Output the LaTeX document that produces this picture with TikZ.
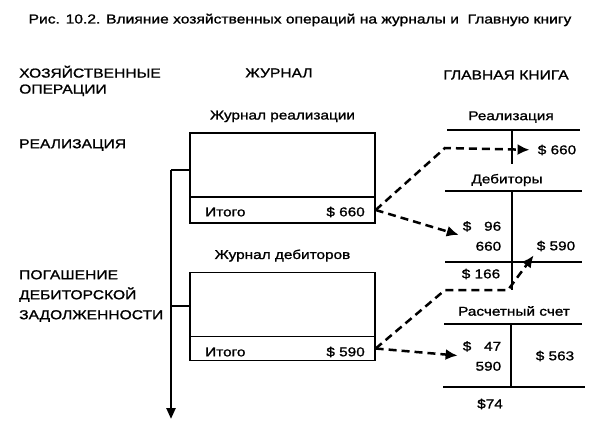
\documentclass[tikz,border=0pt]{standalone}
\usepackage{fontspec}
\setmainfont{Liberation Sans}[FakeStretch=1.2,FakeBold=1.2]
\usetikzlibrary{arrows.meta,positioning}

\begin{document}
\begin{tikzpicture}[x=1pt,y=-1pt,
    caps/.style={font=\fontsize{13}{16}\selectfont,align=left,inner sep=0pt},
    lbl/.style={font=\fontsize{12.8}{20}\selectfont,inner sep=0pt},
    jbox/.style={draw,line width=1.3pt,minimum width=185pt,inner sep=0pt},
    rule/.style={line width=1.4pt},
    flow/.style={-{Latex[length=12pt,width=11pt]},line width=2.5pt,dash pattern=on 8pt off 5pt},
    tline/.style={line width=2.4pt}
  ]
  \useasboundingbox (0,0) rectangle (597,444);

  % headings
  \node[lbl,font=\fontsize{13}{15}\selectfont] (title) at (300,20)
    {Рис. 10.2. Влияние хозяйственных операций на журналы и~~Главную книгу};
  \node[caps,anchor=west] (ops) at (19,81) {ХОЗЯЙСТВЕННЫЕ\\ОПЕРАЦИИ};
  \node[caps] (jhead) at (279,73) {ЖУРНАЛ};
  \node[caps] (lhead) at (506,75) {ГЛАВНАЯ КНИГА};
  \node[caps,anchor=west] (sale) at (19,145) {РЕАЛИЗАЦИЯ};
  \node[caps,anchor=west,font=\fontsize{13}{20}\selectfont] (repay) at (19,296)
    {ПОГАШЕНИЕ\\ДЕБИТОРСКОЙ\\ЗАДОЛЖЕННОСТИ};

  % journals
  \node[jbox,minimum height=90pt] (jsale) at (282.5,178) {};
  \node[jbox,minimum height=26pt] (row1) at (282.5,210) {};
  \node[lbl,above=10pt of jsale] {Журнал реализации};
  \node[lbl,anchor=west] (tot1) at (205,212) {Итого};
  \node[lbl,anchor=east] (sum1) at (365,212) {\$ 660};

  \node[jbox,minimum height=88pt] (jdeb) at (282.5,316.5) {};
  \node[jbox,minimum height=24pt] (row2) at (282.5,348.5) {};
  \node[lbl,above=10pt of jdeb] {Журнал дебиторов};
  \node[lbl,anchor=west] (tot2) at (205,352) {Итого};
  \node[lbl,anchor=east] (sum2) at (365,352) {\$ 590};

  % time line
  \coordinate (ttop) at (171,170);
  \coordinate (tmid) at (171,306);
  \coordinate (tend) at (171,419);
  \draw[tline,-{Triangle[length=11pt,width=9pt]}] (ttop) -- (tend);
  \draw[tline] (ttop) -- (jsale.west |- ttop);
  \draw[tline] (tmid) -- (jdeb.west |- tmid);

  % ledger: Реализация
  \node[lbl] (acsale) at (511,117) {Реализация};
  \draw[rule] (447,130) -- (580,130);
  \draw[rule] (512,130) -- (512,164);
  \node[lbl] (salecr) at (557,150) {\$ 660};

  % ledger: Дебиторы
  \node[lbl] (acdeb) at (507,180) {Дебиторы};
  \draw[rule] (445,191) -- (582,191);
  \draw[rule] (512,191) -- (512,290);
  \draw[rule] (445,262) -- (582,262);
  \node[lbl,align=right] (debdr) at (482,236) {\$~~~96\\660};
  \node[lbl] (debcr) at (556,246) {\$ 590};
  \node[lbl] (debbal) at (481,274) {\$ 166};

  % ledger: Расчетный счет
  \node[lbl] (accash) at (514,311) {Расчетный счет};
  \draw[rule] (444,324) -- (582,324);
  \draw[rule] (511,324) -- (511,387);
  \draw[rule] (443,387) -- (585,387);
  \node[lbl,align=right] (cashdr) at (482,356) {\$~~~47\\590};
  \node[lbl] (cashcr) at (555,356) {\$ 563};
  \node[lbl] (cashbal) at (490,404) {\$74};

  % postings
  \coordinate (k1) at (445,148);
  \coordinate (k2) at (445,290);
  \coordinate (k3) at (508,290);
  \draw[flow,shorten >=8pt] (row1.east) -- (k1) -- (salecr.west);
  \draw[flow,shorten >=4pt] (row1.east) -- (debdr.west);
  \draw[flow,shorten >=5pt] (row2.east) -- (k2) -- (k3) -- (debcr.south west);
  \draw[flow,shorten >=5pt] (row2.east) -- (cashdr.west);
\end{tikzpicture}
\end{document}
